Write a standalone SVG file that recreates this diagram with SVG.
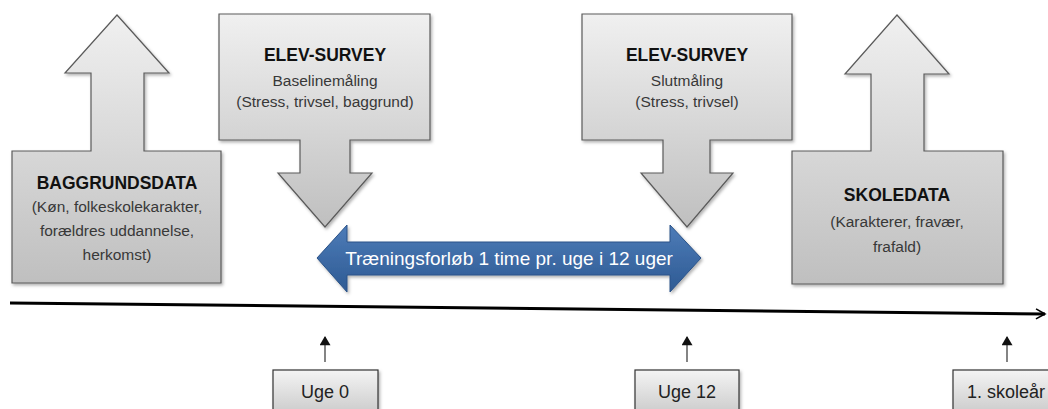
<svg xmlns="http://www.w3.org/2000/svg" width="1048" height="409" viewBox="0 0 1048 409">
<defs>
<linearGradient id="gA" x1="0" y1="0" x2="0" y2="1">
<stop offset="0" stop-color="#f0f0f0"/><stop offset="1" stop-color="#bfbfbf"/>
</linearGradient>
<linearGradient id="gB" x1="0" y1="0" x2="0" y2="1">
<stop offset="0" stop-color="#4d7cb8"/><stop offset="1" stop-color="#2e5a93"/>
</linearGradient>
<linearGradient id="gC" x1="0" y1="0" x2="0" y2="1">
<stop offset="0" stop-color="#f4f4f4"/><stop offset="1" stop-color="#c9c9c9"/>
</linearGradient>
<filter id="sh" x="-10%" y="-10%" width="130%" height="130%">
<feDropShadow dx="1.5" dy="2" stdDeviation="1.5" flood-color="#000" flood-opacity="0.3"/>
</filter>
<marker id="open" viewBox="0 0 12 12" refX="10" refY="6" markerWidth="12" markerHeight="12" markerUnits="userSpaceOnUse" orient="auto">
<path d="M1,1 L10,6 L1,11" fill="none" stroke="#000" stroke-width="1.6"/>
</marker>
<marker id="tri" viewBox="0 0 10 12" refX="9" refY="6" markerWidth="10" markerHeight="11" markerUnits="userSpaceOnUse" orient="auto">
<path d="M0,0 L10,6 L0,12 Z" fill="#111"/>
</marker>
</defs>
<style>
.shape{fill:url(#gA);stroke:#5a5a5a;stroke-width:1.2;filter:url(#sh)}
.tick{fill:url(#gC);stroke:#333;stroke-width:1.2;filter:url(#sh)}
text{font-family:"Liberation Sans",Arial,sans-serif;text-anchor:middle;fill:#222}
.t{font-size:17.5px;font-weight:bold;fill:#111}
.s{font-size:15.5px;fill:#383838}
.w{font-size:19px;fill:#fff}
.u{font-size:18px;fill:#222}
</style>

<g id="baggrundsdata">
<path class="shape" d="M12,151 L91,151 L91,73 L65,73 L117,15 L169,73 L144,73 L144,151 L221,151 L221,283 L12,283 Z"/>
<text class="t" x="117" y="189">BAGGRUNDSDATA</text>
<text class="s" x="117" y="212">(Køn, folkeskolekarakter,</text>
<text class="s" x="117" y="236">forældres uddannelse,</text>
<text class="s" x="117" y="260">herkomst)</text>
</g>

<g id="elev-survey-1">
<path class="shape" d="M219,14 L430,14 L430,140 L350,140 L350,173 L372,173 L325,227 L278,173 L300,173 L300,140 L219,140 Z"/>
<text class="t" x="325" y="61">ELEV-SURVEY</text>
<text class="s" x="325" y="86">Baselinemåling</text>
<text class="s" x="325" y="107">(Stress, trivsel, baggrund)</text>
</g>

<g id="elev-survey-2">
<path class="shape" d="M582,14 L792,14 L792,140 L710,140 L710,173 L733,173 L687,227 L641,173 L663,173 L663,140 L582,140 Z"/>
<text class="t" x="687" y="61">ELEV-SURVEY</text>
<text class="s" x="687" y="86">Slutmåling</text>
<text class="s" x="687" y="107">(Stress, trivsel)</text>
</g>

<g id="skoledata">
<path class="shape" d="M792,151 L871,151 L871,74 L845,74 L897,15 L949,74 L924,74 L924,151 L1003,151 L1003,284 L792,284 Z"/>
<text class="t" x="897" y="201">SKOLEDATA</text>
<text class="s" x="897" y="227">(Karakterer, fravær,</text>
<text class="s" x="897" y="252">frafald)</text>
</g>

<g id="traeningsforloeb">
<path d="M317,258 L347,225 L347,242 L670,242 L670,225 L701,258 L670,292 L670,275 L347,275 L347,292 Z" fill="url(#gB)" stroke="#2a5288" stroke-width="1" filter="url(#sh)"/>
<text class="w" x="509" y="265">Træningsforløb 1 time pr. uge i 12 uger</text>
</g>

<g id="connectors">
<line x1="10" y1="303" x2="1045" y2="314" stroke="#000" stroke-width="3" marker-end="url(#open)"/>
<line x1="325" y1="362" x2="325" y2="337" stroke="#333" stroke-width="1.2" marker-end="url(#tri)"/>
<line x1="687" y1="362" x2="687" y2="337" stroke="#333" stroke-width="1.2" marker-end="url(#tri)"/>
<line x1="1007" y1="362" x2="1007" y2="337" stroke="#333" stroke-width="1.2" marker-end="url(#tri)"/>
</g>

<g id="uge0">
<rect class="tick" x="273" y="370" width="105" height="46"/>
<text class="u" x="325" y="398">Uge 0</text>
</g>
<g id="uge12">
<rect class="tick" x="635" y="370" width="104" height="46"/>
<text class="u" x="687" y="398">Uge 12</text>
</g>
<g id="skoleaar">
<rect class="tick" x="953" y="370" width="105" height="46"/>
<text class="u" x="1006" y="398">1. skoleår</text>
</g>
</svg>
